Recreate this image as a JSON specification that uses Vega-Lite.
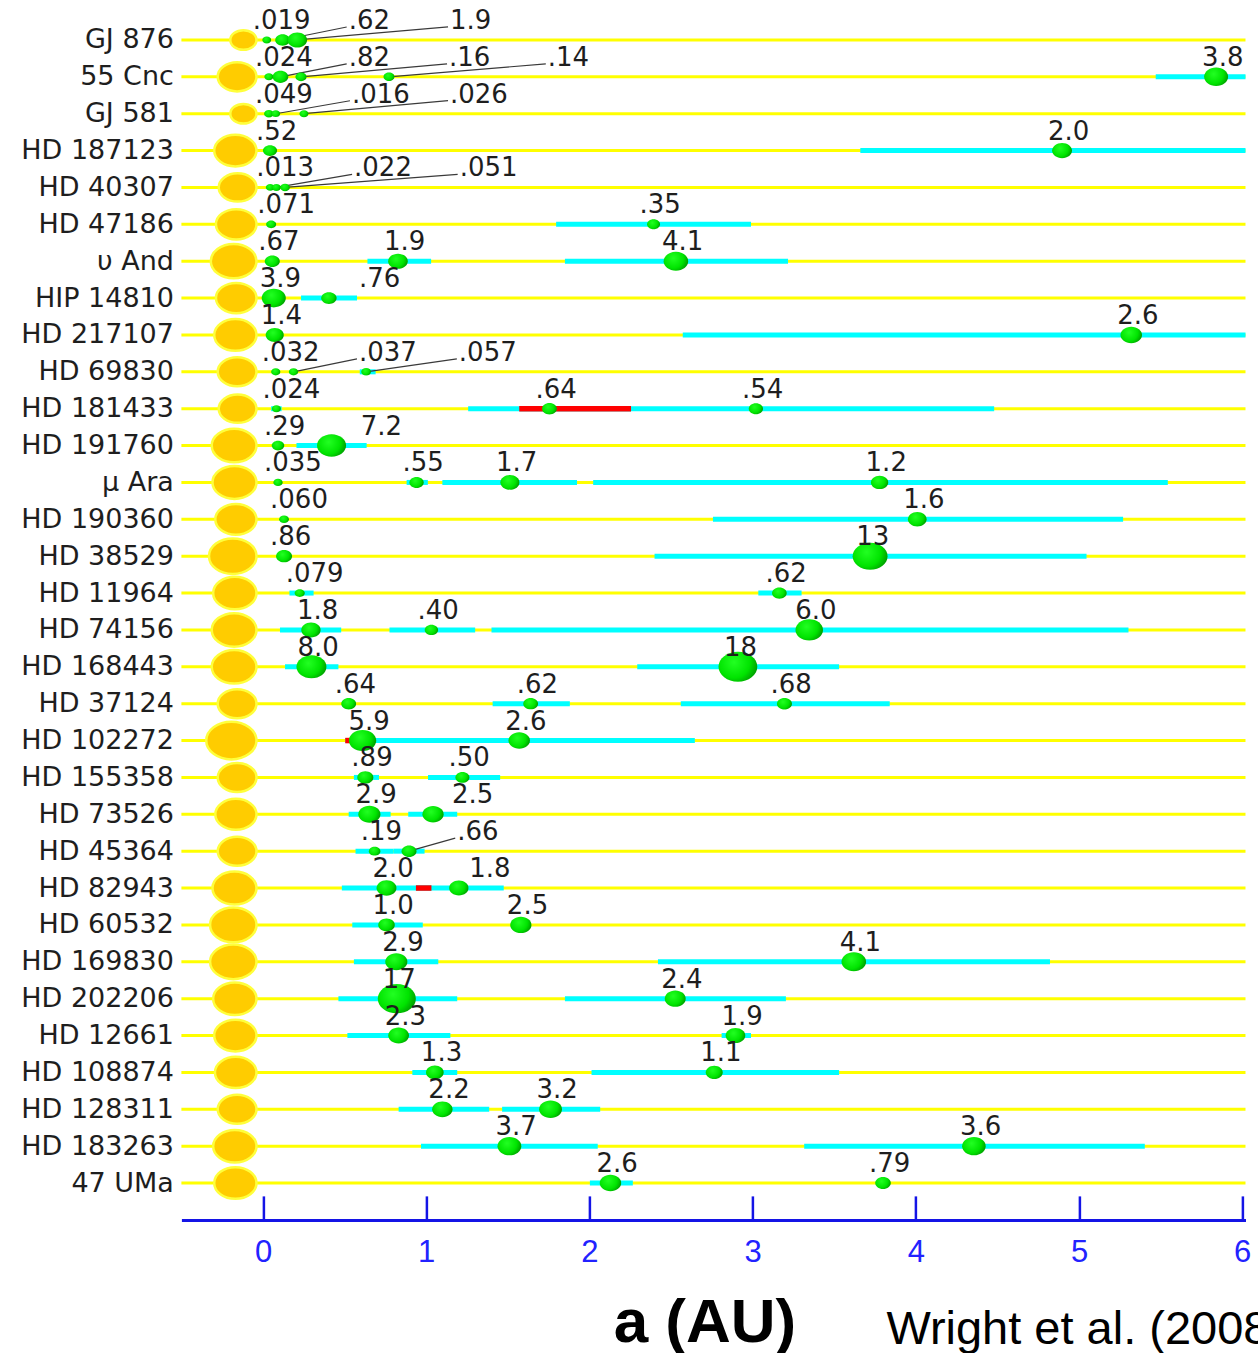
{
  "$schema": "https://vega.github.io/schema/vega-lite/v6.json",
  "width": 1064.1,
  "height": 1216.8,
  "autosize": {"type": "none"},
  "padding": {"left": 181.4, "top": 3.1, "right": 12.5, "bottom": 133},
  "background": "white",
  "config": {
    "view": {"stroke": null},
    "axisX": {
      "grid": false,
      "tickCount": 7,
      "domainColor": "#1414e6",
      "domainWidth": 3,
      "tickColor": "#1414e6",
      "tickWidth": 2.5,
      "tickSize": -24,
      "labelPadding": 42,
      "labelFlush": false,
      "labelFont": "Liberation Sans",
      "labelFontSize": 31,
      "labelColor": "#2222ff",
      "titleFont": "Liberation Sans",
      "titleFontWeight": "bold",
      "titleFontSize": 62,
      "titleColor": "#000000",
      "titleX": 523,
      "titleY": 122,
      "titleBaseline": "alphabetic"
    }
  },
  "title": {
    "text": "Wright et al. (2008)",
    "orient": "bottom",
    "anchor": "start",
    "frame": "group",
    "dx": 705,
    "dy": -47,
    "offset": 0,
    "font": "Liberation Sans",
    "fontSize": 47,
    "fontWeight": "normal",
    "color": "#000000",
    "baseline": "top"
  },
  "datasets": {
    "stars": [
      {"star": "GJ 876", "mstar": 0.28},
      {"star": "55 Cnc", "mstar": 0.91},
      {"star": "GJ 581", "mstar": 0.28},
      {"star": "HD 187123", "mstar": 1.18},
      {"star": "HD 40307", "mstar": 0.84},
      {"star": "HD 47186", "mstar": 1.04},
      {"star": "υ And", "mstar": 1.49},
      {"star": "HIP 14810", "mstar": 1.04},
      {"star": "HD 217107", "mstar": 1.18},
      {"star": "HD 69830", "mstar": 0.91},
      {"star": "HD 181433", "mstar": 0.84},
      {"star": "HD 191760", "mstar": 1.4},
      {"star": "μ Ara\u00a0", "mstar": 1.33},
      {"star": "HD 190360", "mstar": 1.09},
      {"star": "HD 38529", "mstar": 1.67},
      {"star": "HD 11964", "mstar": 1.27},
      {"star": "HD 74156", "mstar": 1.4},
      {"star": "HD 168443", "mstar": 1.4},
      {"star": "HD 37124", "mstar": 0.91},
      {"star": "HD 102272", "mstar": 1.98},
      {"star": "HD 155358", "mstar": 0.91},
      {"star": "HD 73526", "mstar": 1.09},
      {"star": "HD 45364", "mstar": 0.91},
      {"star": "HD 82943", "mstar": 1.33},
      {"star": "HD 60532", "mstar": 1.56},
      {"star": "HD 169830", "mstar": 1.56},
      {"star": "HD 202206", "mstar": 1.27},
      {"star": "HD 12661", "mstar": 1.18},
      {"star": "HD 108874", "mstar": 1.12},
      {"star": "HD 128311", "mstar": 0.91},
      {"star": "HD 183263", "mstar": 1.27},
      {"star": "47 UMa", "mstar": 1.18}
    ],
    "orbits": [
      {"star": "55 Cnc", "lo": 5.47, "hi": 6.21},
      {"star": "HD 187123", "lo": 3.66, "hi": 6.13},
      {"star": "HD 47186", "lo": 1.796, "hi": 2.99},
      {"star": "υ And", "lo": 0.64, "hi": 1.03},
      {"star": "υ And", "lo": 1.85, "hi": 3.217},
      {"star": "HIP 14810", "lo": 0.233, "hi": 0.576},
      {"star": "HD 217107", "lo": 2.572, "hi": 8.07},
      {"star": "HD 69830", "lo": 0.593, "hi": 0.69},
      {"star": "HD 181433", "lo": 0.05, "hi": 0.114},
      {"star": "HD 181433", "lo": 1.257, "hi": 2.255},
      {"star": "HD 181433", "lo": 1.57, "hi": 4.48},
      {"star": "HD 191760", "lo": 0.205, "hi": 0.635},
      {"star": "μ Ara\u00a0", "lo": 0.88, "hi": 1.01},
      {"star": "μ Ara\u00a0", "lo": 1.099, "hi": 1.924},
      {"star": "μ Ara\u00a0", "lo": 2.023, "hi": 5.544},
      {"star": "HD 190360", "lo": 2.757, "hi": 5.27},
      {"star": "HD 38529", "lo": 2.399, "hi": 5.046},
      {"star": "HD 11964", "lo": 0.162, "hi": 0.31},
      {"star": "HD 11964", "lo": 3.035, "hi": 3.3},
      {"star": "HD 74156", "lo": 0.104, "hi": 0.479},
      {"star": "HD 74156", "lo": 0.775, "hi": 1.3},
      {"star": "HD 74156", "lo": 1.4, "hi": 5.303},
      {"star": "HD 168443", "lo": 0.135, "hi": 0.462},
      {"star": "HD 168443", "lo": 2.293, "hi": 3.53},
      {"star": "HD 37124", "lo": 1.407, "hi": 1.88},
      {"star": "HD 37124", "lo": 2.56, "hi": 3.84},
      {"star": "HD 102272", "lo": 0.58, "hi": 0.64},
      {"star": "HD 102272", "lo": 0.504, "hi": 2.646},
      {"star": "HD 155358", "lo": 0.557, "hi": 0.711},
      {"star": "HD 155358", "lo": 1.011, "hi": 1.453},
      {"star": "HD 73526", "lo": 0.525, "hi": 0.782},
      {"star": "HD 73526", "lo": 0.89, "hi": 1.19},
      {"star": "HD 45364", "lo": 0.567, "hi": 0.8},
      {"star": "HD 45364", "lo": 0.8, "hi": 0.99},
      {"star": "HD 82943", "lo": 0.483, "hi": 1.032},
      {"star": "HD 82943", "lo": 0.937, "hi": 1.475},
      {"star": "HD 60532", "lo": 0.547, "hi": 0.979},
      {"star": "HD 169830", "lo": 0.557, "hi": 1.074},
      {"star": "HD 169830", "lo": 2.42, "hi": 4.822},
      {"star": "HD 202206", "lo": 0.462, "hi": 1.19},
      {"star": "HD 202206", "lo": 1.85, "hi": 3.204},
      {"star": "HD 12661", "lo": 0.517, "hi": 1.148},
      {"star": "HD 12661", "lo": 2.81, "hi": 2.99},
      {"star": "HD 108874", "lo": 0.915, "hi": 1.19},
      {"star": "HD 108874", "lo": 2.013, "hi": 3.53},
      {"star": "HD 128311", "lo": 0.831, "hi": 1.386},
      {"star": "HD 128311", "lo": 1.465, "hi": 2.066},
      {"star": "HD 183263", "lo": 0.968, "hi": 2.051},
      {"star": "HD 183263", "lo": 3.316, "hi": 5.403},
      {"star": "47 UMa", "lo": 2.003, "hi": 2.266}
    ],
    "overlaps": [
      {"star": "HD 181433", "lo": 1.57, "hi": 2.255},
      {"star": "HD 102272", "lo": 0.504, "hi": 0.64},
      {"star": "HD 82943", "lo": 0.937, "hi": 1.032}
    ],
    "planets": [
      {"star": "GJ 876", "a": 0.023, "m": 0.019, "lbl": ".019"},
      {"star": "GJ 876", "a": 0.12, "m": 0.62, "lbl": ".62", "lx": 0.525, "leader": true},
      {"star": "GJ 876", "a": 0.21, "m": 1.9, "lbl": "1.9", "lx": 1.146, "leader": true},
      {"star": "55 Cnc", "a": 0.036, "m": 0.024, "lbl": ".024"},
      {"star": "55 Cnc", "a": 0.107, "m": 0.82, "lbl": ".82", "lx": 0.525, "leader": true},
      {"star": "55 Cnc", "a": 0.233, "m": 0.16, "lbl": ".16", "lx": 1.14, "leader": true},
      {"star": "55 Cnc", "a": 0.772, "m": 0.14, "lbl": ".14", "lx": 1.745, "leader": true},
      {"star": "55 Cnc", "a": 5.84, "m": 3.8, "lbl": "3.8"},
      {"star": "GJ 581", "a": 0.036, "m": 0.049, "lbl": ".049"},
      {"star": "GJ 581", "a": 0.078, "m": 0.016, "lbl": ".016", "lx": 0.545, "leader": true},
      {"star": "GJ 581", "a": 0.251, "m": 0.026, "lbl": ".026", "lx": 1.146, "leader": true},
      {"star": "HD 187123", "a": 0.043, "m": 0.52, "lbl": ".52"},
      {"star": "HD 187123", "a": 4.896, "m": 2.0, "lbl": "2.0"},
      {"star": "HD 40307", "a": 0.044, "m": 0.013, "lbl": ".013"},
      {"star": "HD 40307", "a": 0.082, "m": 0.022, "lbl": ".022", "lx": 0.558, "leader": true},
      {"star": "HD 40307", "a": 0.135, "m": 0.051, "lbl": ".051", "lx": 1.205, "leader": true},
      {"star": "HD 47186", "a": 0.05, "m": 0.071, "lbl": ".071"},
      {"star": "HD 47186", "a": 2.393, "m": 0.35, "lbl": ".35"},
      {"star": "υ And", "a": 0.057, "m": 0.67, "lbl": ".67"},
      {"star": "υ And", "a": 0.827, "m": 1.9, "lbl": "1.9"},
      {"star": "υ And", "a": 2.53, "m": 4.1, "lbl": "4.1"},
      {"star": "HIP 14810", "a": 0.066, "m": 3.9, "lbl": "3.9"},
      {"star": "HIP 14810", "a": 0.404, "m": 0.76, "lbl": ".76", "lx": 0.588},
      {"star": "HD 217107", "a": 0.072, "m": 1.4, "lbl": "1.4"},
      {"star": "HD 217107", "a": 5.32, "m": 2.6, "lbl": "2.6"},
      {"star": "HD 69830", "a": 0.078, "m": 0.032, "lbl": ".032"},
      {"star": "HD 69830", "a": 0.187, "m": 0.037, "lbl": ".037", "lx": 0.588, "leader": true},
      {"star": "HD 69830", "a": 0.632, "m": 0.057, "lbl": ".057", "lx": 1.2, "leader": true},
      {"star": "HD 181433", "a": 0.082, "m": 0.024, "lbl": ".024"},
      {"star": "HD 181433", "a": 1.755, "m": 0.64, "lbl": ".64"},
      {"star": "HD 181433", "a": 3.02, "m": 0.54, "lbl": ".54"},
      {"star": "HD 191760", "a": 0.092, "m": 0.29, "lbl": ".29"},
      {"star": "HD 191760", "a": 0.42, "m": 7.2, "lbl": "7.2", "lx": 0.599},
      {"star": "μ Ara\u00a0", "a": 0.092, "m": 0.035, "lbl": ".035"},
      {"star": "μ Ara\u00a0", "a": 0.941, "m": 0.55, "lbl": ".55"},
      {"star": "μ Ara\u00a0", "a": 1.513, "m": 1.7, "lbl": "1.7"},
      {"star": "μ Ara\u00a0", "a": 3.778, "m": 1.2, "lbl": "1.2"},
      {"star": "HD 190360", "a": 0.129, "m": 0.06, "lbl": ".060"},
      {"star": "HD 190360", "a": 4.009, "m": 1.6, "lbl": "1.6"},
      {"star": "HD 38529", "a": 0.129, "m": 0.86, "lbl": ".86"},
      {"star": "HD 38529", "a": 3.72, "m": 13, "lbl": "13"},
      {"star": "HD 11964", "a": 0.225, "m": 0.079, "lbl": ".079"},
      {"star": "HD 11964", "a": 3.164, "m": 0.62, "lbl": ".62"},
      {"star": "HD 74156", "a": 0.294, "m": 1.8, "lbl": "1.8"},
      {"star": "HD 74156", "a": 1.032, "m": 0.4, "lbl": ".40"},
      {"star": "HD 74156", "a": 3.347, "m": 6.0, "lbl": "6.0"},
      {"star": "HD 168443", "a": 0.297, "m": 8.0, "lbl": "8.0"},
      {"star": "HD 168443", "a": 2.91, "m": 18, "lbl": "18"},
      {"star": "HD 37124", "a": 0.525, "m": 0.64, "lbl": ".64"},
      {"star": "HD 37124", "a": 1.64, "m": 0.62, "lbl": ".62"},
      {"star": "HD 37124", "a": 3.195, "m": 0.68, "lbl": ".68"},
      {"star": "HD 102272", "a": 0.61, "m": 5.9, "lbl": "5.9"},
      {"star": "HD 102272", "a": 1.57, "m": 2.6, "lbl": "2.6"},
      {"star": "HD 155358", "a": 0.627, "m": 0.89, "lbl": ".89"},
      {"star": "HD 155358", "a": 1.222, "m": 0.5, "lbl": ".50"},
      {"star": "HD 73526", "a": 0.652, "m": 2.9, "lbl": "2.9"},
      {"star": "HD 73526", "a": 1.042, "m": 2.5, "lbl": "2.5", "lx": 1.158},
      {"star": "HD 45364", "a": 0.684, "m": 0.19, "lbl": ".19"},
      {"star": "HD 45364", "a": 0.895, "m": 0.66, "lbl": ".66", "lx": 1.19, "leader": true},
      {"star": "HD 82943", "a": 0.757, "m": 2.0, "lbl": "2.0"},
      {"star": "HD 82943", "a": 1.2, "m": 1.8, "lbl": "1.8", "lx": 1.264},
      {"star": "HD 60532", "a": 0.757, "m": 1.0, "lbl": "1.0"},
      {"star": "HD 60532", "a": 1.58, "m": 2.5, "lbl": "2.5"},
      {"star": "HD 169830", "a": 0.817, "m": 2.9, "lbl": "2.9"},
      {"star": "HD 169830", "a": 3.62, "m": 4.1, "lbl": "4.1"},
      {"star": "HD 202206", "a": 0.82, "m": 17, "lbl": "17"},
      {"star": "HD 202206", "a": 2.526, "m": 2.4, "lbl": "2.4"},
      {"star": "HD 12661", "a": 0.831, "m": 2.3, "lbl": "2.3"},
      {"star": "HD 12661", "a": 2.895, "m": 1.9, "lbl": "1.9"},
      {"star": "HD 108874", "a": 1.053, "m": 1.3, "lbl": "1.3"},
      {"star": "HD 108874", "a": 2.765, "m": 1.1, "lbl": "1.1"},
      {"star": "HD 128311", "a": 1.099, "m": 2.2, "lbl": "2.2"},
      {"star": "HD 128311", "a": 1.762, "m": 3.2, "lbl": "3.2"},
      {"star": "HD 183263", "a": 1.51, "m": 3.7, "lbl": "3.7"},
      {"star": "HD 183263", "a": 4.356, "m": 3.6, "lbl": "3.6"},
      {"star": "47 UMa", "a": 2.129, "m": 2.6, "lbl": "2.6"},
      {"star": "47 UMa", "a": 3.799, "m": 0.79, "lbl": ".79"}
    ]
  },
  "encoding": {
    "y": {
      "field": "star",
      "type": "nominal",
      "scale": {
        "type": "point",
        "padding": 1,
        "domain": ["GJ 876", "55 Cnc", "GJ 581", "HD 187123", "HD 40307", "HD 47186", "υ And", "HIP 14810", "HD 217107", "HD 69830", "HD 181433", "HD 191760", "μ Ara\u00a0", "HD 190360", "HD 38529", "HD 11964", "HD 74156", "HD 168443", "HD 37124", "HD 102272", "HD 155358", "HD 73526", "HD 45364", "HD 82943", "HD 60532", "HD 169830", "HD 202206", "HD 12661", "HD 108874", "HD 128311", "HD 183263", "47 UMa"]
      },
      "axis": {
        "title": null,
        "domain": false,
        "ticks": false,
        "grid": false,
        "labelPadding": 8,
        "labelFont": "DejaVu Sans",
        "labelFontSize": 27,
        "labelColor": "#1e1e1e",
        "labelLimit": 300
      }
    }
  },
  "layer": [
    {
      "data": {"name": "stars"},
      "mark": {"type": "rule", "color": "#ffff00", "strokeWidth": 3},
      "encoding": {}
    },
    {
      "data": {"name": "orbits"},
      "mark": {"type": "rule", "color": "#00ffff", "strokeWidth": 5, "clip": true},
      "encoding": {
        "x": {"field": "lo", "type": "quantitative", "title": "a (AU)", "scale": {"domain": [-0.5, 6.02], "nice": false, "zero": false}},
        "x2": {"field": "hi"}
      }
    },
    {
      "data": {"name": "overlaps"},
      "mark": {"type": "rule", "color": "#ff0000", "strokeWidth": 5.5},
      "encoding": {
        "x": {"field": "lo", "type": "quantitative", "title": "a (AU)"},
        "x2": {"field": "hi"}
      }
    },
    {
      "data": {"name": "stars"},
      "mark": {
        "type": "point",
        "filled": true,
        "fill": "#ffcc00",
        "stroke": "#ffff3c",
        "strokeWidth": 2.5,
        "opacity": 1,
        "shape": "M-2,0C-2,-0.414,-1.552,-0.75,-1,-0.75C-0.448,-0.75,0,-0.414,0,0C0,0.414,-0.448,0.75,-1,0.75C-1.552,0.75,-2,0.414,-2,0Z"
      },
      "encoding": {
        "x": {"datum": -0.04, "type": "quantitative", "title": "a (AU)"},
        "size": {"field": "mstar", "type": "quantitative", "scale": {"type": "pow", "exponent": 0.6667, "domain": [0, 2], "range": [0, 2540]}, "legend": null}
      }
    },
    {
      "data": {"name": "planets"},
      "transform": [{"filter": "datum.leader === true"}],
      "mark": {"type": "rule", "color": "#3a3a3a", "strokeWidth": 1.2, "y2Offset": -13, "x2Offset": -2},
      "encoding": {
        "x": {"field": "a", "type": "quantitative", "title": "a (AU)"},
        "x2": {"field": "lx"},
        "y2": {"field": "star"}
      }
    },
    {
      "data": {"name": "planets"},
      "mark": {
        "type": "point",
        "filled": true,
        "opacity": 1,
        "shape": "M-1,0C-1,-0.425,-0.552,-0.77,0,-0.77C0.552,-0.77,1,-0.425,1,0C1,0.425,0.552,0.77,0,0.77C-0.552,0.77,-1,0.425,-1,0Z",
        "fill": {
          "gradient": "radial",
          "x1": 0.4, "y1": 0.38, "r1": 0,
          "x2": 0.4, "y2": 0.38, "r2": 0.68,
          "stops": [
            {"offset": 0, "color": "#22ff22"},
            {"offset": 0.6, "color": "#00e400"},
            {"offset": 1, "color": "#008a00"}
          ]
        }
      },
      "encoding": {
        "x": {"field": "a", "type": "quantitative", "title": "a (AU)"},
        "size": {"field": "m", "type": "quantitative", "scale": {"type": "pow", "exponent": 0.6667, "domain": [0, 18], "range": [64, 1505]}, "legend": null}
      }
    },
    {
      "data": {"name": "planets"},
      "transform": [{"filter": "datum.lx == null"}],
      "mark": {"type": "text", "align": "left", "baseline": "alphabetic", "dx": -14, "dy": -11, "font": "DejaVu Sans", "fontSize": 26, "color": "#1e1e1e"},
      "encoding": {
        "x": {"field": "a", "type": "quantitative", "title": "a (AU)"},
        "text": {"field": "lbl"}
      }
    },
    {
      "data": {"name": "planets"},
      "transform": [{"filter": "datum.lx != null"}],
      "mark": {"type": "text", "align": "left", "baseline": "alphabetic", "dy": -11, "font": "DejaVu Sans", "fontSize": 26, "color": "#1e1e1e"},
      "encoding": {
        "x": {"field": "lx", "type": "quantitative", "title": "a (AU)"},
        "text": {"field": "lbl"}
      }
    }
  ],
  "resolve": {"scale": {"size": "independent"}}
}
